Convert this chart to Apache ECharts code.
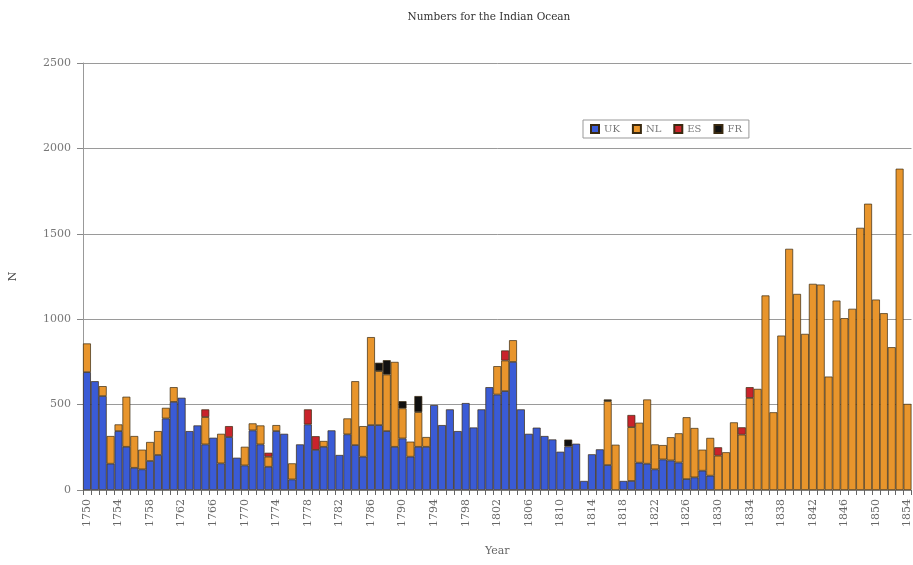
<!DOCTYPE html>
<html>
<head>
<meta charset="utf-8">
<script src="https://cdn.jsdelivr.net/npm/echarts@6/dist/echarts.min.js"></script>
<style>
html,body{margin:0;padding:0;background:#fff;}
#chart{width:913px;height:565px;}
</style>
</head>
<body>
<div id="chart"></div>
<script>
var years = [];
for (var y = 1750; y <= 1854; y++) years.push(String(y));

var ukValues = [690,637,550,154,345,253,130,121,170,205,
  419,516,540,345,378,267,306,156,310,189,
  144,349,267,136,345,329,62,267,384,235,
  253,349,205,326,263,195,380,380,345,253,
  302,195,253,253,497,380,472,345,509,366,
  472,602,559,579,750,472,329,365,316,296,
  224,255,271,53,209,238,146,0,53,53,
  160,154,121,179,173,161,64,74,113,84,
  0,0,0,0,0,0,0,0,0,0,
  0,0,0,0,0,0,0,0,0,0,
  0,0,0,0,0];

var nlValues = [168,0,58,162,39,293,186,115,111,140,
  62,86,0,0,0,160,0,173,0,0,
  109,41,111,59,35,0,94,0,0,0,
  34,0,0,93,374,179,515,316,331,497,
  176,88,203,57,0,0,0,0,0,0,
  0,0,166,179,127,0,0,0,0,0,
  0,0,0,0,0,0,374,265,0,315,
  234,376,146,84,136,171,362,289,123,221,
  201,221,396,324,539,592,1139,455,904,1412,
  1148,914,1207,1203,664,1109,1006,1061,1535,1676,
  1115,1035,836,1881,504];

var esValues = [0,0,0,0,0,0,0,0,0,0,
  0,0,0,0,0,45,0,0,64,0,
  0,0,0,23,0,0,0,0,88,80,
  0,0,0,0,0,0,0,0,0,0,
  0,0,0,0,0,0,0,0,0,0,
  0,0,0,59,0,0,0,0,0,0,
  0,0,0,0,0,0,0,0,0,71,
  0,0,0,0,0,0,0,0,0,0,
  49,0,0,43,63,0,0,0,0,0,
  0,0,0,0,0,0,0,0,0,0,
  0,0,0,0,0];

var frValues = [0,0,0,0,0,0,0,0,0,0,
  0,0,0,0,0,0,0,0,0,0,
  0,0,0,0,0,0,0,0,0,0,
  0,0,0,0,0,0,0,49,84,0,
  42,0,94,0,0,0,0,0,0,0,
  0,0,0,0,0,0,0,0,0,0,
  0,40,0,0,0,0,10,0,0,0,
  0,0,0,0,0,0,0,0,0,0,
  0,0,0,0,0,0,0,0,0,0,
  0,0,0,0,0,0,0,0,0,0,
  0,0,0,0,0];

var yTicks = [0, 500, 1000, 1500, 2000, 2500];

var seriesNames = ['UK','NL','ES','FR'];
var seriesColors = ['#3a5bd6','#e8952c','#c9232b','#111111'];
var seriesData = [ukValues, nlValues, esValues, frValues];

var font = 'DejaVu Serif';
var chart = echarts.init(document.getElementById('chart'));
chart.setOption({
  animation: false,
  backgroundColor: '#ffffff',
  title: {
    text: 'Numbers for the Indian Ocean',
    left: 484, top: 7, textAlign: 'center',
    textStyle: {fontFamily: font, fontSize: 10.5, fontWeight: 'normal', color: '#333'}
  },
  legend: {
    data: seriesNames,
    left: 583, top: 120,
    itemWidth: 8, itemHeight: 8, itemGap: 12,
    padding: [4, 7],
    borderColor: '#999', borderWidth: 1,
    backgroundColor: '#fff',
    icon: 'rect',
    textStyle: {fontFamily: font, fontSize: 10, color: '#777'}
  },
  grid: {left: 82, right: 0, top: 63, bottom: 75},
  xAxis: {
    type: 'category',
    data: years,
    name: 'Year',
    nameLocation: 'middle',
    nameGap: 56,
    nameTextStyle: {fontFamily: font, fontSize: 11, color: '#666'},
    axisLine: {lineStyle: {color: '#888'}},
    axisTick: {show: true, interval: 0, length: 5, lineStyle: {color: '#666'}},
    axisLabel: {interval: 3, rotate: 90, margin: 9, fontFamily: font, fontSize: 11, color: '#666'},
    splitLine: {show: false}
  },
  yAxis: {
    type: 'value',
    min: yTicks[0], max: yTicks[yTicks.length - 1], interval: 500,
    name: 'N',
    nameLocation: 'middle',
    nameGap: 64,
    nameRotate: 90,
    nameTextStyle: {fontFamily: font, fontSize: 11, color: '#444'},
    axisLine: {show: true, lineStyle: {color: '#999'}},
    axisTick: {show: true, length: 6, lineStyle: {color: '#888'}},
    axisLabel: {margin: 12, fontFamily: font, fontSize: 11, color: '#777',
      formatter: function (v) { return String(v); }},
    splitLine: {lineStyle: {color: '#9a9a9a', width: 1}}
  },
  series: seriesNames.map(function (n, i) {
    return {
      name: n, type: 'bar', stack: 'total',
      data: seriesData[i].map(function (v) { return v === 0 ? '-' : v; }),
      barCategoryGap: '0%',
      itemStyle: {color: seriesColors[i], borderColor: '#3a2a10', borderWidth: 0.7}
    };
  })
});
</script>
</body>
</html>
